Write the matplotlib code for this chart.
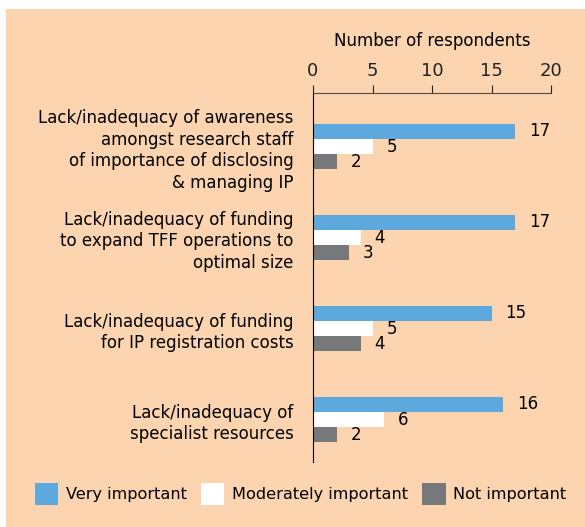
import matplotlib.pyplot as plt
from matplotlib.patches import Rectangle
import numpy as np

categories = [
    "Lack/inadequacy of awareness\namongst research staff\nof importance of disclosing\n& managing IP",
    "Lack/inadequacy of funding\nto expand TFF operations to\noptimal size",
    "Lack/inadequacy of funding\nfor IP registration costs",
    "Lack/inadequacy of\nspecialist resources",
]
very_important = [17, 17, 15, 16]
moderately_important = [5, 4, 5, 6]
not_important = [2, 3, 4, 2]
series_names = ["Very important", "Moderately important", "Not important"]

peach = "#FDD4B0"
colors = ["#5DA8DC", "#FFFFFF", "#77787B"]

fig = plt.figure(figsize=(5.85, 5.27), dpi=100, facecolor="white")
fig.patches.append(Rectangle((6 / 585, 0), 1, 1 - 9 / 527, transform=fig.transFigure,
                             facecolor=peach, edgecolor="none", zorder=-10))

ax = fig.add_axes([313 / 585, 1 - 462 / 527, 238 / 585, 369 / 527])
ax.set_facecolor("none")

y = np.arange(len(categories))
h = 0.165
series = [very_important, moderately_important, not_important]
offsets = [-h, 0, h]
for vals, off, col, name in zip(series, offsets, colors, series_names):
    bars = ax.barh(y + off, vals, height=h, color=col, label=name, edgecolor="none")
    for b, v in zip(bars, vals):
        ax.annotate(str(v), (b.get_width(), b.get_y() + b.get_height() / 2),
                    xytext=(10, 0), textcoords="offset points",
                    va="center", ha="left", fontsize=12)

ax.set_xlim(0, 20)
ax.set_ylim(3.467, -0.588)
ax.xaxis.tick_top()
ax.xaxis.set_label_position("top")
ax.set_xticks([0, 5, 10, 15, 20])
ax.tick_params(axis="x", direction="out", length=6, labelsize=13, colors="#222222", pad=3)
ax.set_xlabel("Number of respondents", fontsize=12, labelpad=12)

ax.set_yticks(y)
ax.set_yticklabels(categories, fontsize=12, linespacing=1.28)
ax.tick_params(axis="y", length=0, pad=14)
for lbl in ax.get_yticklabels():
    lbl.set_multialignment("right")

for s in ["right", "bottom"]:
    ax.spines[s].set_visible(False)
ax.spines["top"].set_color("#4a4a4a")
ax.spines["left"].set_color("black")

fig.legend(loc="center", bbox_to_anchor=(0.5 + 8 / 585, 1 - 494 / 527), ncol=3, frameon=False,
           fontsize=11.6, handlelength=1.45, handleheight=1.65, handletextpad=0.45,
           columnspacing=0.9)

fig.savefig("out.png", dpi=100, facecolor="white")
